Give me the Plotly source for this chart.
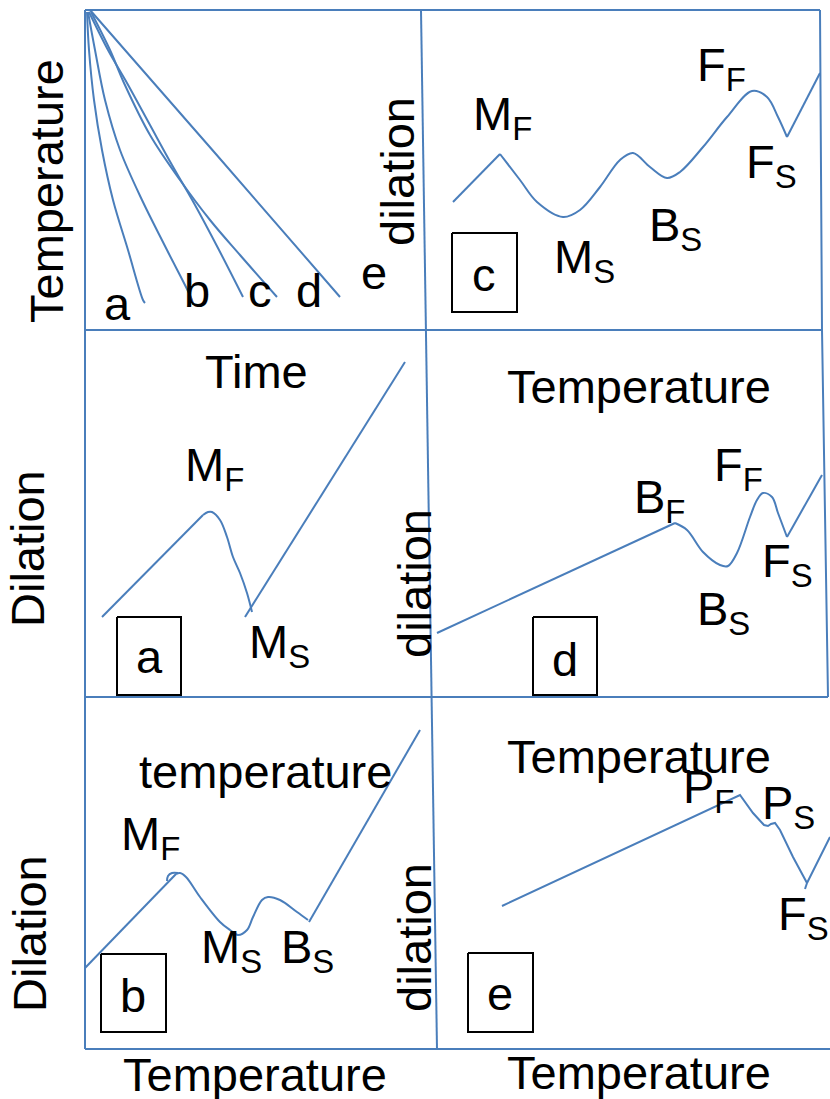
import plotly.graph_objects as go

# ---------------- data (pixel-space schematic) ----------------
BLUE = "#4a7ebb"
FONT = "Liberation Sans, Arial, sans-serif"

# frame / divider lines
frame_top_x = [85, 820];          frame_top_y = [10, 10]
frame_left_x = [85, 85];          frame_left_y = [10, 1049]
frame_mid_x = [421, 426, 432, 437]; frame_mid_y = [10, 330, 697, 1049]
frame_h1_x = [85, 822];           frame_h1_y = [330, 330]
frame_h2_x = [85, 828];           frame_h2_y = [697, 697]
frame_bot_x = [85, 830];          frame_bot_y = [1049, 1049]
frame_right_x = [820, 822, 828];  frame_right_y = [10, 330, 697]

# top-left: cooling curves a..e (temperature vs time)
cool_a_x = [87, 89, 94, 102, 113, 128, 143, 145]
cool_a_y = [12, 50, 100, 150, 200, 250, 300, 303]
cool_b_x = [88, 95, 105, 120, 142, 167, 192, 193]
cool_b_y = [12, 50, 100, 150, 200, 250, 300, 305]
cool_c_x = [89, 108, 127, 150, 172, 195, 219, 243]
cool_c_y = [12, 50, 83, 125, 165, 205, 250, 297]
cool_d_x = [91, 110, 124, 150, 180, 210, 240, 277]
cool_d_y = [12, 50, 83, 135, 180, 220, 255, 297]
cool_e_x = [90, 215, 340]
cool_e_y = [10, 153, 297]

# panel a
pa_rise_x = [102, 203];  pa_rise_y = [617, 515]
pa_drop_x = [203, 208, 212, 220, 227, 233, 240, 247, 252]
pa_drop_y = [515, 512, 512, 520, 537, 557, 573, 593, 612]
pa_up_x = [245, 405];    pa_up_y = [617, 362]

# panel b
pb_rise_x = [85, 176];   pb_rise_y = [968, 874]
pb_hook_x = [167, 168, 172, 178]; pb_hook_y = [881, 876, 873, 873]
pb_wave_x = [176, 180, 186, 200, 220, 230, 238, 247, 253, 262, 268, 280, 297, 308]
pb_wave_y = [874, 873, 877, 897, 922, 930, 935, 930, 917, 900, 897, 900, 912, 920]
pb_up_x = [309, 420];    pb_up_y = [922, 730]

# panel c
pc_x = [453, 500, 520, 537, 563, 580, 600, 620, 633, 650, 667, 680, 703, 727, 752, 767, 778, 787, 820]
pc_y = [202, 154, 180, 202, 217, 210, 187, 160, 153, 167, 178, 172, 147, 117, 91, 97, 117, 137, 73]

# panel d
pd_x = [437, 675, 687, 703, 720, 728, 737, 750, 757, 763, 772, 778, 787, 822]
pd_y = [633, 523, 530, 552, 565, 566, 553, 517, 500, 493, 497, 513, 537, 475]

# panel e
pe_x = [502, 740, 753, 764, 768, 771, 775, 780, 793, 807, 830]
pe_y = [906, 795, 813, 825, 826, 824, 823, 830, 857, 883, 837]
pe_tick_x = [805, 807]; pe_tick_y = [889, 883]

# black label boxes: (x0, x1, y0, y1)
box_names = ["a", "b", "c", "d", "e"]
box_x0 = [117, 101, 452, 533, 468]
box_x1 = [181, 166, 517, 597, 533]
box_y0 = [617, 954, 233, 617, 953]
box_y1 = [695, 1032, 312, 695, 1032]
box_text_x = [149, 133, 484, 565, 500]
box_text_y = [656, 995, 274, 659, 993]

# horizontal texts
h_texts = ["a", "b", "c", "d", "e",
           "Time", "Temperature", "temperature", "Temperature", "Temperature", "Temperature",
           "M<sub>F</sub>", "F<sub>F</sub>", "F<sub>S</sub>", "B<sub>S</sub>", "M<sub>S</sub>",
           "M<sub>F</sub>", "M<sub>S</sub>",
           "B<sub>F</sub>", "F<sub>F</sub>", "F<sub>S</sub>", "B<sub>S</sub>",
           "M<sub>F</sub>", "M<sub>S</sub>", "B<sub>S</sub>",
           "P<sub>F</sub>", "P<sub>S</sub>", "F<sub>S</sub>"]
h_x = [117, 197, 260, 309, 374,
       256, 639, 265, 639, 255, 639,
       502, 721, 771, 675, 584,
       214, 279,
       659, 738, 787, 723,
       150, 231, 307,
       708, 788, 803]
h_y = [303, 290, 290, 290, 272,
       371, 386, 771, 756, 1074, 1072,
       117, 68, 165, 228, 260,
       468, 645,
       500, 468, 564, 612,
       837, 950, 950,
       790, 806, 917]

# vertical texts
v_texts = ["Temperature", "Dilation", "Dilation", "dilation", "dilation", "dilation"]
v_x = [46, 27, 29, 397, 414, 414]
v_y = [191, 549, 934, 172, 584, 938]

FS = 47

# ---------------- figure ----------------
fig = go.Figure()


def add_line(xs, ys, shape="linear", color=BLUE, width=2):
    fig.add_trace(go.Scatter(x=xs, y=ys, mode="lines",
                             line=dict(color=color, width=width, shape=shape),
                             hoverinfo="skip", showlegend=False))


for xs, ys in [(frame_top_x, frame_top_y), (frame_left_x, frame_left_y),
               (frame_mid_x, frame_mid_y), (frame_h1_x, frame_h1_y),
               (frame_h2_x, frame_h2_y), (frame_bot_x, frame_bot_y),
               (frame_right_x, frame_right_y)]:
    add_line(xs, ys)

for xs, ys in [(cool_a_x, cool_a_y), (cool_b_x, cool_b_y), (cool_c_x, cool_c_y),
               (cool_d_x, cool_d_y), (cool_e_x, cool_e_y)]:
    add_line(xs, ys, "spline")

add_line(pa_rise_x, pa_rise_y)
add_line(pa_drop_x, pa_drop_y, "spline")
add_line(pa_up_x, pa_up_y)

add_line(pb_rise_x, pb_rise_y)
add_line(pb_hook_x, pb_hook_y, "spline")
add_line(pb_wave_x, pb_wave_y, "spline")
add_line(pb_up_x, pb_up_y)

add_line(pc_x[0:2], pc_y[0:2])
add_line(pc_x[1:18], pc_y[1:18], "spline")
add_line(pc_x[17:19], pc_y[17:19])

add_line(pd_x[0:2], pd_y[0:2])
add_line(pd_x[1:13], pd_y[1:13], "spline")
add_line(pd_x[12:14], pd_y[12:14])

add_line(pe_x, pe_y)
add_line(pe_tick_x, pe_tick_y)

for i in range(len(box_names)):
    x0, x1, y0, y1 = box_x0[i], box_x1[i], box_y0[i], box_y1[i]
    add_line([x0, x1, x1, x0, x0], [y0, y0, y1, y1, y0], color="black", width=2)

annotations = []
for t, x, y in zip(box_names, box_text_x, box_text_y):
    annotations.append(dict(x=x, y=y, text=t, showarrow=False, xanchor="center",
                            yanchor="middle", font=dict(family=FONT, size=FS, color="black")))
for t, x, y in zip(h_texts, h_x, h_y):
    annotations.append(dict(x=x, y=y, text=t, showarrow=False, xanchor="center",
                            yanchor="middle", font=dict(family=FONT, size=FS, color="black")))
for t, x, y in zip(v_texts, v_x, v_y):
    annotations.append(dict(x=x, y=y, text=t, showarrow=False, textangle=-90,
                            xanchor="center", yanchor="middle",
                            font=dict(family=FONT, size=FS, color="black")))

fig.update_layout(
    width=830, height=1099,
    margin=dict(l=0, r=0, t=0, b=0),
    paper_bgcolor="white", plot_bgcolor="white",
    xaxis=dict(range=[0, 830], visible=False, fixedrange=True),
    yaxis=dict(range=[1099, 0], visible=False, fixedrange=True),
    annotations=annotations,
    showlegend=False,
)

fig.write_html("out.html", config={"displayModeBar": False},
               post_script="document.body.style.margin='0';document.body.style.overflow='hidden';")
